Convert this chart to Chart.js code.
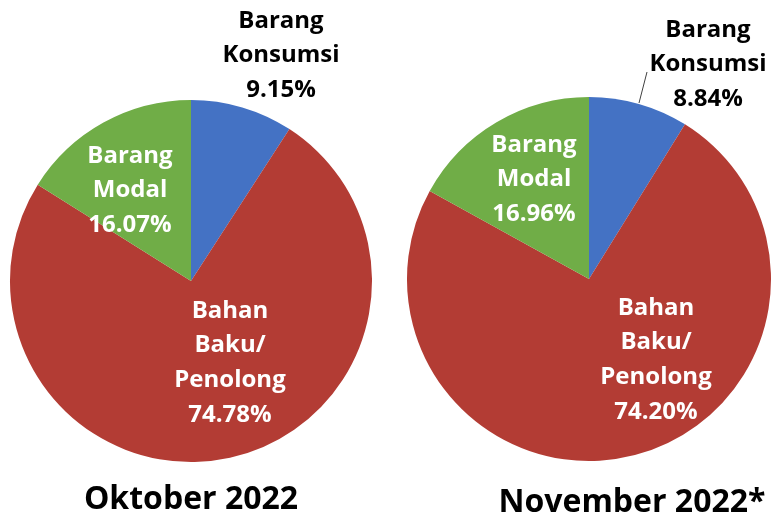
<!DOCTYPE html>
<html>
<head>
<meta charset="utf-8">
<script src="https://cdn.jsdelivr.net/npm/chart.js@4/dist/chart.umd.min.js"></script>
<style>
  html, body { margin: 0; padding: 0; background: #fff; }
  #wrap { position: relative; width: 771px; height: 518px; overflow: hidden; }
  .box { position: absolute; top: 0; height: 518px; }
  #boxL { left: 0; width: 390px; }
  #boxR { left: 390px; width: 381px; }
</style>
</head>
<body>
<div id="wrap">
  <div class="box" id="boxL"><canvas id="chartL"></canvas></div>
  <div class="box" id="boxR"><canvas id="chartR"></canvas></div>
</div>
<script>
// --- DATA ---
const categories = [
    ['Barang', 'Konsumsi'],
    ['Bahan', 'Baku/', 'Penolong'],
    ['Barang', 'Modal']
];
const periods = ['Oktober 2022', 'November 2022*'];
const oktoberValues = [9.15, 74.78, 16.07];
const novemberValues = [8.84, 74.20, 16.96];

const sliceColors = ['#4472C4', '#B33C34', '#70AD47'];
const labelColors = ['#000000', '#FFFFFF', '#FFFFFF'];
const FONT = '"Open Sans", "DejaVu Sans", sans-serif';

// draws the slice labels, the leader line and the period title
const pieLabels = {
    id: 'pieLabels',
    afterDraw(chart, args, opts) {
        const ctx = chart.ctx;
        const arc = chart.getDatasetMeta(0).data[0];
        const cx = arc.x, cy = arc.y;
        const values = chart.data.datasets[0].data;

        ctx.save();
        ctx.textAlign = 'center';
        ctx.textBaseline = 'alphabetic';
        ctx.font = 'bold 24px ' + FONT;

        if (opts.leader) {
            const l = opts.leader;
            ctx.strokeStyle = '#404040';
            ctx.lineWidth = 1;
            ctx.beginPath();
            ctx.moveTo(cx + l[0], cy + l[1]);
            ctx.lineTo(cx + l[2], cy + l[3]);
            ctx.stroke();
        }

        categories.forEach((lines, i) => {
            const pos = opts.positions[i];
            const all = lines.concat([values[i].toFixed(2) + '%']);
            ctx.fillStyle = labelColors[i];
            all.forEach((txt, k) => {
                ctx.fillText(txt, cx + pos[0], cy + pos[1] + k * 34.8 + 8.5);
            });
        });

        ctx.fillStyle = '#000';
        ctx.font = 'bold 32px ' + FONT;
        ctx.fillText(opts.title, cx + opts.titlePos[0], cy + opts.titlePos[1] + 11.5);
        ctx.restore();
    }
};

const makePie = (id, values, title, padding, labelOpts) => {
    return new Chart(document.getElementById(id), {
        type: 'pie',
        data: {
            labels: categories.map(c => c.join(' ')),
            datasets: [{
                data: values,
                backgroundColor: sliceColors,
                borderWidth: 0
            }]
        },
        options: {
            responsive: true,
            maintainAspectRatio: false,
            animation: false,
            layout: { padding: padding },
            plugins: {
                legend: { display: false },
                tooltip: { enabled: false },
                pieLabels: Object.assign({ title: title }, labelOpts)
            }
        },
        plugins: [pieLabels]
    });
};

makePie('chartL', oktoberValues, periods[0],
    { left: 10, right: 18, top: 100, bottom: 56 },
    {
        positions: [[90, -262], [39, 28], [-61, -127]],
        titlePos: [0, 216]
    });

makePie('chartR', novemberValues, periods[1],
    { left: 17, right: 0, top: 97, bottom: 57 },
    {
        positions: [[119, -251], [67, 27], [-55, -136]],
        titlePos: [43, 221],
        leader: [50, -176, 58, -207]
    });
</script>
</body>
</html>
